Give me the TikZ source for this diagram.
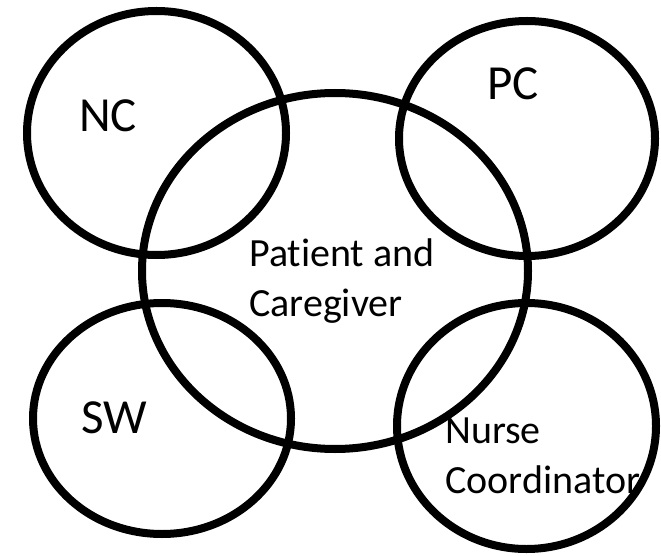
\documentclass[tikz,border=0pt]{standalone}
\usepackage{fontspec}
\setmainfont{Carlito}[Ligatures=NoCommon]
\begin{document}
\begin{tikzpicture}[x=1pt,y=-1pt,
  ring/.style={line width=8pt,draw=black},
  bigtag/.style={anchor=base west,inner sep=0pt,font=\fontsize{49}{59}\selectfont},
  tag/.style={anchor=base west,inner sep=0pt,align=left,font=\fontsize{40}{50}\selectfont}]
\useasboundingbox (0,0) rectangle (661,556);
\fill[white] (0,0) rectangle (661,556);
% labels (two-line labels are placed by the baseline of their last line)
\node[bigtag] (nc) at (79,132) {NC};
\node[bigtag] (pc) at (487,100) {PC};
\node[bigtag] (sw) at (81,433) {SW};
\node[tag] (pat) at (249,316) {Patient and\\Caregiver};
\node[tag] (nur) at (445,493) {Nurse\\Coordinator};
% circles
\draw[ring] (156.5,133) ellipse [x radius=129.5,y radius=122];
\draw[ring] (527,138.5) ellipse [x radius=128,y radius=117.5];
\draw[ring] (335,271) ellipse [x radius=193,y radius=178];
\draw[ring] (162,418.5) ellipse [x radius=129,y radius=115.5];
\draw[ring] (526.5,426) ellipse [x radius=129.5,y radius=123];
\end{tikzpicture}
\end{document}
